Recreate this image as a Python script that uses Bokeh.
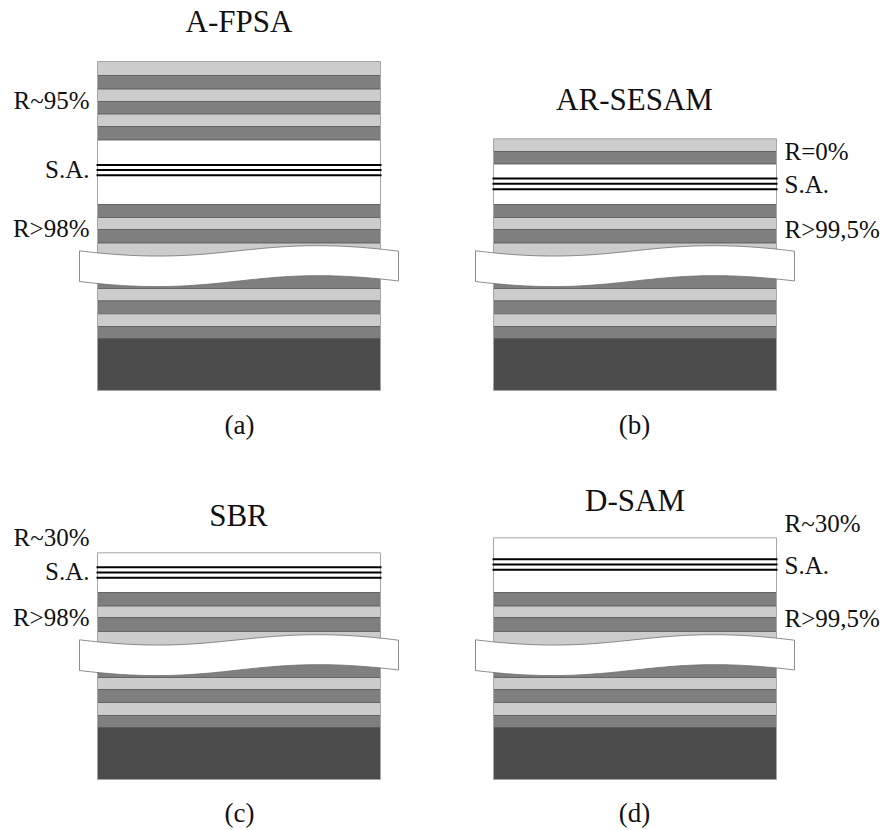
from bokeh.plotting import figure
from bokeh.models import Range1d, ColumnDataSource
from bokeh.core.properties import value
from bokeh.embed import file_html
from bokeh.resources import INLINE
import numpy as np

LIGHT, DARK, SUB, WHITE = "#cccccc", "#7f7f7f", "#4c4c4c", "#ffffff"

# panel names, captions and left edges of the layer stack
titles = ["A-FPSA", "AR-SESAM", "SBR", "D-SAM"]
captions = ["(a)", "(b)", "(c)", "(d)"]
title_x = [238.5, 634, 238, 634.5]
title_y = [21, 98.5, 515, 500]
caption_x = [239, 634, 239, 634]
caption_y = [424, 424, 812, 812]
panel_left = [97, 493, 97, 493]
panel_width = 283
break_dy = [0, 0, 389, 389]

# layer boundaries, top to bottom, and the fill of each layer
edges_a = [61, 75, 88.5, 101, 113.5, 126, 139.5, 204, 217, 229, 242.5, 275, 288, 300.3, 313.3, 326, 338, 390]
fills_a = [LIGHT, DARK, LIGHT, DARK, LIGHT, DARK, WHITE, DARK, LIGHT, DARK, LIGHT, DARK, LIGHT, DARK, LIGHT, DARK, SUB]
edges_b = [138.3, 151, 163.5, 204, 217, 229, 242.5, 275, 288, 300.3, 313.3, 326, 338, 390]
fills_b = [LIGHT, DARK, WHITE, DARK, LIGHT, DARK, LIGHT, DARK, LIGHT, DARK, LIGHT, DARK, SUB]
edges_c = [552.3, 592, 605.5, 617, 631, 664, 677, 689, 702, 715, 727, 779]
fills_c = [WHITE, DARK, LIGHT, DARK, LIGHT, DARK, LIGHT, DARK, LIGHT, DARK, SUB]
edges_d = [537.3, 592, 605.5, 617, 631, 664, 677, 689, 702, 715, 727, 779]
fills_d = fills_c
all_edges = [edges_a, edges_b, edges_c, edges_d]
all_fills = [fills_a, fills_b, fills_c, fills_d]

# saturable absorber quantum wells
sa_a = [164.5, 169.5, 174.7]
sa_b = [178, 183.3, 188.7]
sa_c = [566.7, 572, 577.3]
sa_d = [558.7, 564, 569.3]
all_sa = [sa_a, sa_b, sa_c, sa_d]

# side labels
label_text = ["R~95%", "S.A.", "R>98%",
              "R=0%", "S.A.", "R>99,5%",
              "R~30%", "S.A.", "R>98%",
              "R~30%", "S.A.", "R>99,5%"]
label_x = [89, 89, 89, 784, 784, 784, 89, 89, 89, 784, 784, 784]
label_y = [100, 169, 228, 150.5, 184, 229, 537, 571, 617, 522.5, 565, 618]
label_align = ["right"] * 3 + ["left"] * 3 + ["right"] * 3 + ["left"] * 3

p = figure(width=883, height=830, x_range=Range1d(0, 883), y_range=Range1d(830, 0),
           toolbar_location=None, output_backend="svg", min_border=0,
           x_axis_location=None, y_axis_location=None)
p.grid.visible = False
p.outline_line_color = None
p.background_fill_color = "white"

for i in range(4):
    x0, x1 = panel_left[i], panel_left[i] + panel_width
    e = np.array(all_edges[i], dtype=float)
    p.quad(left=x0, right=x1, top=e[:-1], bottom=e[1:], fill_color=all_fills[i], line_color=None)
    p.segment(x0=x0, x1=x1, y0=e[1:-1], y1=e[1:-1], line_color="#555555", line_width=1, line_alpha=0.85)
    p.quad(left=x0, right=x1, top=e[0], bottom=e[-1], fill_color=None, line_color="#a6a6a6", line_width=1)
    sa = all_sa[i]
    p.segment(x0=x0 - 1, x1=x1 + 1, y0=sa, y1=sa, line_color="black", line_width=2)

    # the break across the stack
    xb = x0 - 18
    t = np.linspace(0, 1, 80)
    bx = lambda a, b, c, d: (1-t)**3*a + 3*t*(1-t)**2*b + 3*t**2*(1-t)*c + t**3*d
    xs = bx(xb, xb + 146, xb + 171, xb + 319)
    dy = break_dy[i]
    top = bx(250.3, 268.5, 232, 250.7) + dy
    bot = bx(281, 299, 262, 280.5) + dy
    p.patch(np.r_[xs, xs[::-1]], np.r_[top, bot[::-1]], fill_color="white", line_color="#707070", line_width=0.8)

p.text(x=title_x, y=title_y, text=titles, text_font=value("Liberation Serif"), text_font_size="31px",
       text_align="center", text_baseline="middle", text_color="#111111")
p.text(x=caption_x, y=caption_y, text=captions, text_font=value("Liberation Serif"), text_font_size="27px",
       text_align="center", text_baseline="middle", text_color="#111111")
src = ColumnDataSource(dict(x=label_x, y=label_y, t=label_text, a=label_align))
p.text(x="x", y="y", text="t", text_align="a", source=src, text_font=value("Liberation Serif"),
       text_font_size="25px", text_baseline="middle", text_color="#111111")

open("out.html", "w").write(file_html(p, INLINE))
